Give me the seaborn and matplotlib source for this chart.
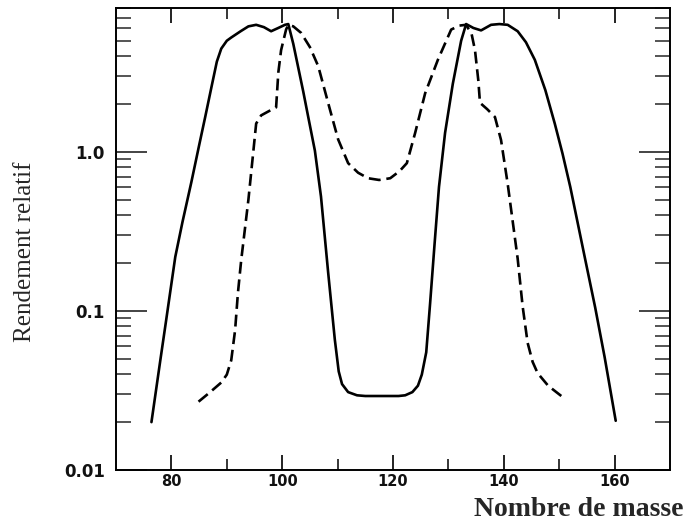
import matplotlib
matplotlib.use("Agg")
import matplotlib.pyplot as plt
import seaborn as sns
import pandas as pd
from matplotlib.ticker import FixedLocator, LogLocator, NullFormatter

# Solid curve
solid_x = [76.4, 78.0, 79.0, 80.7, 82.0, 83.6, 85.0, 86.1, 87.3, 88.2, 89.0, 90.0, 90.8,
           92.5, 93.9, 95.3, 96.7, 98.0, 99.3, 100.5, 101.1, 102.0, 102.9, 103.8,
           104.7, 105.9, 107.0, 108.3, 109.5, 110.2, 110.8, 111.9, 113.5, 115.0,
           118.0, 121.0, 122.2, 123.5, 124.5, 125.2, 126.0, 126.7, 127.5, 128.3,
           129.4, 130.8, 132.3, 133.2, 134.5, 135.9, 137.7, 139.2, 140.7, 142.5,
           144.0, 145.6, 147.5, 149.2, 150.6, 152.0, 154.6, 156.5, 158.2, 160.2]
solid_y = [0.020, 0.049, 0.085, 0.219, 0.363, 0.646, 1.10, 1.66, 2.63, 3.70, 4.47, 5.01, 5.25,
           5.75, 6.17, 6.31, 6.10, 5.75, 6.03, 6.31, 6.38, 4.79, 3.39, 2.40,
           1.66, 1.02, 0.525, 0.174, 0.066, 0.0417, 0.0347, 0.0309, 0.0295, 0.0292,
           0.0292, 0.0292, 0.0295, 0.0309, 0.0339, 0.0398, 0.055, 0.112, 0.263, 0.603,
           1.32, 2.69, 5.01, 6.38, 6.03, 5.82, 6.31, 6.38, 6.31, 5.75,
           4.90, 3.80, 2.45, 1.51, 0.977, 0.603, 0.219, 0.105, 0.0513, 0.0204]

# Dashed curve
dash_x = [84.9, 87.0, 89.0, 90.0, 90.8, 91.5, 92.0, 92.6, 93.9, 95.3, 96.2, 97.5,
          98.9, 99.3, 99.8, 100.7, 101.1, 102.0, 103.4, 105.0, 106.5, 108.6, 110.1,
          111.9, 113.7, 115.5, 117.5, 119.5, 121.2, 122.5, 124.0, 125.8, 128.1,
          130.5, 132.0, 133.2, 134.2, 134.8, 135.4, 135.7, 137.0, 138.4, 139.5,
          140.7, 142.5, 143.4, 144.3, 145.2, 146.1, 148.0, 150.6]
dash_y = [0.0269, 0.0309, 0.0355, 0.0398, 0.049, 0.0759, 0.129, 0.209, 0.501, 1.51, 1.70, 1.80,
          1.91, 3.16, 4.37, 5.89, 6.31, 6.17, 5.62, 4.57, 3.47, 1.86, 1.20,
          0.851, 0.741, 0.684, 0.667, 0.684, 0.759, 0.851, 1.32, 2.34, 3.80,
          5.89, 6.24, 6.31, 5.50, 4.37, 2.82, 2.04, 1.86, 1.66, 1.19,
          0.631, 0.214, 0.107, 0.0631, 0.0479, 0.0407, 0.0339, 0.0288]

x_ticks = [80, 100, 120, 140, 160]
x_minor = [90, 110, 130, 150]
y_ticks = [0.01, 0.1, 1.0]
y_labels = ["0.01", "0.1", "1.0"]

sns.set_style("white")
plt.rcParams['font.family'] = ['DejaVu Sans']

fig = plt.figure(figsize=(6.87, 5.22), dpi=100)
ax = fig.add_axes([116/687, 1 - 470/522, (670-116)/687, (470-8)/522])

df_s = pd.DataFrame({"x": solid_x, "y": solid_y})
df_d = pd.DataFrame({"x": dash_x, "y": dash_y})
sns.lineplot(data=df_s, x="x", y="y", ax=ax, sort=False, estimator=None,
             color="black", lw=1.9)
sns.lineplot(data=df_d, x="x", y="y", ax=ax, sort=False, estimator=None,
             color="black", lw=1.9, dashes=False)
ax.lines[-1].set_dashes([4.5, 2.2])
for ln in ax.lines:
    ln.set_solid_joinstyle("round")
    ln.set_dash_joinstyle("round")

ax.set_yscale("log")
ax.set_xlim(70, 170)
ax.set_ylim(0.01, 8.05)

ax.xaxis.set_major_locator(FixedLocator(x_ticks))
ax.xaxis.set_minor_locator(FixedLocator(x_minor))
ax.set_xticklabels([str(t) for t in x_ticks])
ax.yaxis.set_major_locator(FixedLocator(y_ticks))
ax.yaxis.set_minor_locator(LogLocator(base=10, subs=[2, 3, 4, 5, 6, 7, 8, 9]))
ax.yaxis.set_minor_formatter(NullFormatter())
ax.set_yticklabels(y_labels)

ax.tick_params(axis="x", which="major", direction="in", top=True, bottom=True,
               length=11, width=1.3, pad=3, labelsize=10.5, colors="#111111")
ax.tick_params(axis="x", which="minor", direction="in", top=True, bottom=True,
               length=8, width=1.3)
ax.tick_params(axis="y", which="major", direction="in", left=True, right=True,
               length=22, width=1.1, pad=8, labelsize=12, colors="#111111")
ax.tick_params(axis="y", which="minor", direction="in", left=True, right=True,
               length=11, width=1.1)
for lab in ax.get_xticklabels() + ax.get_yticklabels():
    lab.set_fontweight("bold")

for sp in ax.spines.values():
    sp.set_linewidth(1.4)
    sp.set_color("black")

ax.set_xlabel("")
ax.set_ylabel("")
fig.text(25/687, 1 - 252/522, "Rendement relatif", rotation=90, ha="center",
         va="center", fontsize=18, family="Liberation Serif")
fig.text(684/687, 1 - 515.5/522, "Nombre de masse", ha="right", va="baseline",
         fontsize=20, family="Liberation Serif", fontweight="bold")

fig.savefig("out.png", dpi=100)
